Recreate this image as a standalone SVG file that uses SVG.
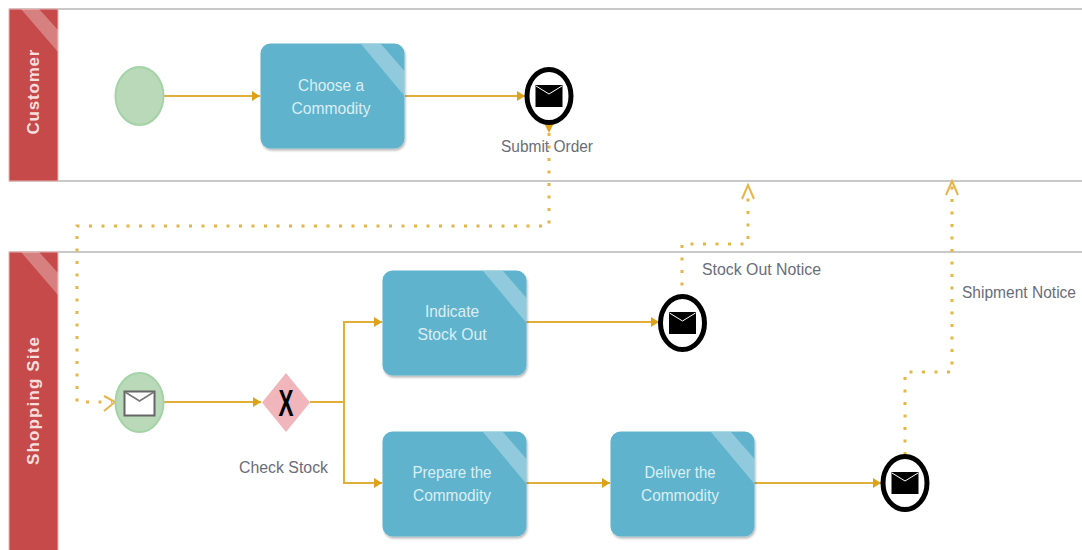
<svg xmlns="http://www.w3.org/2000/svg" width="1082" height="550" viewBox="0 0 1082 550">
<style>
text{font-family:"Liberation Sans",Arial,sans-serif}
.lane{fill:#c64a4a;stroke:#e7b5b5;stroke-width:1}
.laneline{stroke:#c9c9c9;stroke-width:2;fill:none}
.lanetext{fill:#f6dede;font-size:17px;font-weight:bold;text-anchor:middle}
.gloss{fill:#fff;opacity:.3}
.task{fill:#61b3cd;filter:url(#shadow)}
.tasktext{fill:#d9eff5;font-size:17px;text-anchor:middle}
.label{fill:#6a6d78;font-size:16px}
.flow{fill:none;stroke:#e2ae3a;stroke-width:2}
.msg{fill:none;stroke:#e6b548;stroke-width:3;stroke-dasharray:3 9.500}
.open{fill:none;stroke:#e6b548;stroke-width:2}
.start{fill:#b9d9b9;stroke:#a4d3a6;stroke-width:2}
.end{fill:#fff;stroke:#000;stroke-width:5}
</style>
<defs>
<marker id="arrow" markerUnits="userSpaceOnUse" markerWidth="10" markerHeight="12" refX="9" refY="6" orient="auto"><path d="M1 1L9 6L1 11Z" fill="#dea218"/></marker>
<filter id="shadow" x="-5%" y="-5%" width="112%" height="112%"><feDropShadow dx="1" dy="2" stdDeviation="1.200" flood-color="#000" flood-opacity=".28"/></filter>
</defs>
<g id="lane-customer">
<path class="laneline" d="M9 9H1082M9 181H1082"/>
<rect class="lane" x="9" y="9" width="49" height="172"/>
<path class="gloss" d="M21 9H39L58 30V52Z"/>
<text class="lanetext" transform="translate(39,92) rotate(-90)" textLength="85" lengthAdjust="spacing">Customer</text>
</g>
<g id="lane-shopping-site">
<path class="laneline" d="M9 252H1082"/>
<rect class="lane" x="9" y="252" width="49" height="299"/>
<path class="gloss" d="M21 252H39L58 273V295Z"/>
<text class="lanetext" transform="translate(39,401) rotate(-90)" textLength="128" lengthAdjust="spacing">Shopping Site</text>
</g>
<g id="connectors">
<path class="flow" d="M164 96H260" marker-end="url(#arrow)"/>
<path class="flow" d="M405 96H525" marker-end="url(#arrow)"/>
<path class="flow" d="M164 402H261" marker-end="url(#arrow)"/>
<path class="flow" d="M310 402H344V322H382" marker-end="url(#arrow)"/>
<path class="flow" d="M344 402V483H382" marker-end="url(#arrow)"/>
<path class="flow" d="M526 322H659" marker-end="url(#arrow)"/>
<path class="flow" d="M526 483H610" marker-end="url(#arrow)"/>
<path class="flow" d="M754 483H881" marker-end="url(#arrow)"/>
<path d="M544 123H554L549 133Z" fill="#dea218"/>
<path class="msg" d="M549 133V226H77V402H112"/>
<path class="open" d="M104 396L115 402L104 411"/>
<path class="msg" d="M682 298V244H748V190"/>
<path class="open" d="M742 199L748 185L754 199"/>
<path class="msg" d="M905 455V372H952V186"/>
<path class="open" d="M946 195L952 181L958 195"/>
</g>
<g id="start-event">
<ellipse class="start" cx="139.500" cy="96" rx="24" ry="29"/>
</g>
<g id="task-choose-commodity">
<rect class="task" x="260.500" y="43.500" width="144" height="105" rx="10"/>
<path class="gloss" d="M361 44H381L404.500 71V96Z"/>
<text class="tasktext" x="331" y="91" textLength="66" lengthAdjust="spacingAndGlyphs">Choose a</text>
<text class="tasktext" x="331" y="114" textLength="79" lengthAdjust="spacingAndGlyphs">Commodity</text>
</g>
<g id="event-submit-order">
<ellipse class="end" cx="549" cy="96" rx="22" ry="26.500"/>
<rect x="535.500" y="85" width="27" height="22" fill="#000"/>
<path d="M536 86L549 94L562 86" fill="none" stroke="#fff" stroke-width="1"/>
<text class="label" x="501" y="152" textLength="92" lengthAdjust="spacingAndGlyphs">Submit Order</text>
</g>
<g id="event-message-start">
<ellipse class="start" cx="139.500" cy="402.500" rx="24" ry="29.500"/>
<rect x="124.500" y="391.500" width="30" height="24" fill="#fff" stroke="#666" stroke-width="2"/>
<path d="M125 392L139.500 401L154 392" fill="none" stroke="#777" stroke-width="1.500"/>
</g>
<g id="gateway-check-stock">
<path d="M286 373L310 402.500L286 432L262 402.500Z" fill="#f0b6bc"/>
<text x="286" y="416" font-size="36" font-weight="bold" text-anchor="middle" textLength="15" lengthAdjust="spacingAndGlyphs" fill="#000">X</text>
<text class="label" x="239" y="473" textLength="89" lengthAdjust="spacingAndGlyphs">Check Stock</text>
</g>
<g id="task-indicate-stock-out">
<rect class="task" x="382.500" y="270.500" width="144" height="105" rx="10"/>
<path class="gloss" d="M483 271H503L526.500 298V323Z"/>
<text class="tasktext" x="452" y="317" textLength="54" lengthAdjust="spacingAndGlyphs">Indicate</text>
<text class="tasktext" x="452" y="340" textLength="69" lengthAdjust="spacingAndGlyphs">Stock Out</text>
</g>
<g id="task-prepare-commodity">
<rect class="task" x="382.500" y="431.500" width="144" height="105" rx="10"/>
<path class="gloss" d="M483 432H503L526.500 459V484Z"/>
<text class="tasktext" x="452" y="478" textLength="79" lengthAdjust="spacingAndGlyphs">Prepare the</text>
<text class="tasktext" x="452" y="501" textLength="78" lengthAdjust="spacingAndGlyphs">Commodity</text>
</g>
<g id="task-deliver-commodity">
<rect class="task" x="610.500" y="431.500" width="144" height="105" rx="10"/>
<path class="gloss" d="M711 432H731L754.500 459V484Z"/>
<text class="tasktext" x="680" y="478" textLength="71" lengthAdjust="spacingAndGlyphs">Deliver the</text>
<text class="tasktext" x="680" y="501" textLength="78" lengthAdjust="spacingAndGlyphs">Commodity</text>
</g>
<g id="event-stock-out-notice">
<ellipse class="end" cx="682.500" cy="323" rx="22" ry="26.500"/>
<rect x="669" y="312" width="27" height="22" fill="#000"/>
<path d="M669.500 313L682.500 321L695.500 313" fill="none" stroke="#fff" stroke-width="1"/>
<text class="label" x="702" y="275" textLength="119" lengthAdjust="spacingAndGlyphs">Stock Out Notice</text>
</g>
<g id="event-shipment-notice">
<ellipse class="end" cx="905" cy="483" rx="22" ry="26.500"/>
<rect x="891.500" y="472" width="27" height="22" fill="#000"/>
<path d="M892 473L905 481L918 473" fill="none" stroke="#fff" stroke-width="1"/>
<text class="label" x="962" y="298" textLength="114" lengthAdjust="spacingAndGlyphs">Shipment Notice</text>
</g>
</svg>
